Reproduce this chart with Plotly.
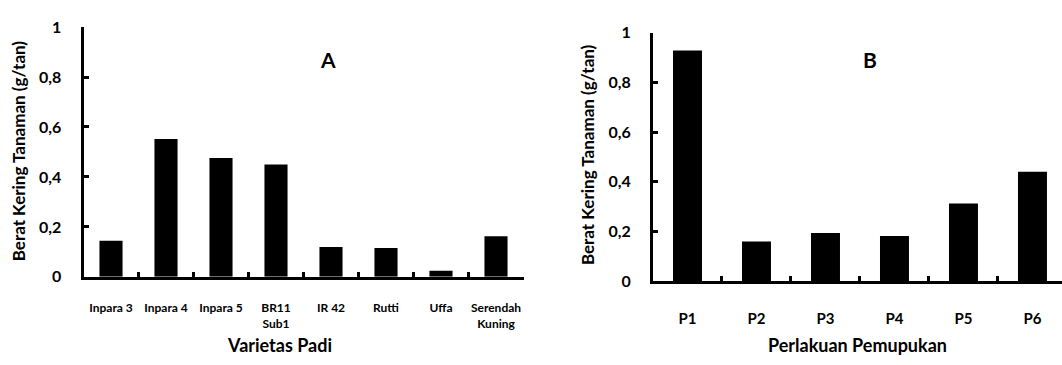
import plotly.graph_objects as go

W, H = 1062, 365

# Panel A data
varieties = ["Inpara 3", "Inpara 4", "Inpara 5", "BR11<br>Sub1", "IR 42", "Rutti", "Uffa", "Serendah<br>Kuning"]
weight_a = [0.144, 0.552, 0.476, 0.450, 0.119, 0.115, 0.024, 0.163]

# Panel B data
treatments = ["P1", "P2", "P3", "P4", "P5", "P6"]
weight_b = [0.929, 0.159, 0.194, 0.182, 0.312, 0.440]

# Axis ticks
y_tickvals = [0, 0.2, 0.4, 0.6, 0.8, 1]
y_ticktext = ["0", "0,2", "0,4", "0,6", "0,8", "1"]

y_title = "Berat Kering Tanaman (g/tan)"
x_title_a = "Varietas Padi"
x_title_b = "Perlakuan Pemupukan"

FONT = "Lato"

fig = go.Figure()
fig.add_trace(go.Bar(x=varieties, y=weight_a, marker=dict(color="black", line=dict(width=0)),
                     width=0.42, xaxis="x", yaxis="y", showlegend=False))
fig.add_trace(go.Bar(x=treatments, y=weight_b, marker=dict(color="black", line=dict(width=0)),
                     width=0.42, xaxis="x2", yaxis="y2", showlegend=False))

def px(v):
    return v / W

def py(v):
    return 1 - v / H

common_x = dict(showline=True, linecolor="black", linewidth=3, ticks="inside", ticklen=5,
                tickwidth=3, tickcolor="black", tickson="boundaries", showgrid=False,
                zeroline=False, type="category", fixedrange=True, tickangle=0)
common_y = dict(showline=True, linecolor="black", linewidth=3, ticks="inside", ticklen=5,
                tickwidth=3, tickcolor="black", showgrid=False, zeroline=False,
                range=[0, 1], tickvals=y_tickvals, ticktext=y_ticktext,
                tickfont=dict(family=FONT, size=16, color="black", weight="bold"),
                ticklabelstandoff=16, fixedrange=True)

fig.update_layout(
    width=W, height=H,
    margin=dict(l=0, r=0, t=0, b=0),
    paper_bgcolor="white", plot_bgcolor="white",
    font=dict(family=FONT, color="black"),
    xaxis=dict(common_x, domain=[px(83.5), px(523.5)], anchor="y", range=[-0.5, 7.5],
               tickfont=dict(family=FONT, size=12, color="black", weight="bold"),
               ticklabelstandoff=18),
    yaxis=dict(common_y, domain=[py(281.5), py(18)], anchor="x"),
    xaxis2=dict(common_x, domain=[px(653), 1.0], anchor="y2", range=[-0.5, 5.428],
                tickfont=dict(family=FONT, size=15, color="black", weight="bold"),
                ticklabelstandoff=22),
    yaxis2=dict(common_y, domain=[py(286), py(24)], anchor="x2"),
)

ann = []
ann.append(dict(text=y_title, x=px(18), y=py(149), textangle=-90, xref="paper", yref="paper",
                showarrow=False, xanchor="center", yanchor="middle",
                font=dict(family=FONT, size=17, color="black", weight="bold")))
ann.append(dict(text=y_title, x=px(587), y=py(153), textangle=-90, xref="paper", yref="paper",
                showarrow=False, xanchor="center", yanchor="middle",
                font=dict(family=FONT, size=17, color="black", weight="bold")))
ann.append(dict(text=x_title_a, x=px(279), y=py(353), xref="paper", yref="paper",
                showarrow=False, xanchor="center", yanchor="middle",
                font=dict(family=FONT, size=18, color="black", weight="bold")))
ann.append(dict(text=x_title_b, x=px(857), y=py(353), xref="paper", yref="paper",
                showarrow=False, xanchor="center", yanchor="middle",
                font=dict(family=FONT, size=18, color="black", weight="bold")))
ann.append(dict(text="A", x=px(328), y=py(52), xref="paper", yref="paper",
                showarrow=False, xanchor="center", yanchor="middle",
                font=dict(family=FONT, size=21, color="black", weight="bold")))
ann.append(dict(text="B", x=px(870), y=py(52), xref="paper", yref="paper",
                showarrow=False, xanchor="center", yanchor="middle",
                font=dict(family=FONT, size=21, color="black", weight="bold")))
fig.update_layout(annotations=ann)

fig.write_html("out.html", config={"displayModeBar": False},
               post_script="document.body.style.margin='0';document.body.style.overflow='hidden';")
